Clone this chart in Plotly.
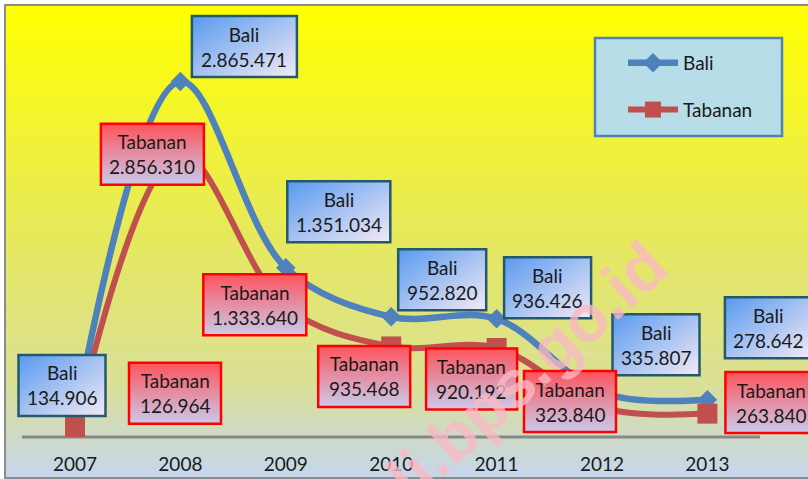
import plotly.graph_objects as go

# ---- data ----
years = ["2007", "2008", "2009", "2010", "2011", "2012", "2013"]
bali = [134906, 2865471, 1351034, 952820, 936426, 335807, 278642]
tabanan = [126964, 2856310, 1333640, 935468, 920192, 323840, 263840]

# ---- label box placement (pixel offsets from each point: right, up) ----
bali_offsets = [(-13, 32), (64, 35), (53, 56), (51, 37), (51, 31), (54, 48), (61, 72)]
tabanan_offsets = [(100, 34), (-28, 0), (-31, 2), (-27, -30), (-25, -31), (-32, 6), (64, 11)]
bali_widths = [87, 105, 103, 88, 87, 87, 87]
tabanan_widths = [92, 103, 103, 92, 91, 92, 92]
BOX_H = 61

W, H = 808, 479
FONT = "Lato"
BLUE = "#4F81BD"
RED = "#C0504D"

xpos = list(range(len(years)))


def fmt(v):
    return f"{v:,}".replace(",", ".")


def mix(c0, c1, t):
    return "rgb(%d,%d,%d)" % tuple(round(a + (b - a) * t) for a, b in zip(c0, c1))


def px(x, y):
    """figure pixel -> paper coords (margins are zero)"""
    return x / W, 1 - y / H


def clip(poly, a, b, c):
    """keep the part of poly where a*s + b*r <= c"""
    out = []
    for i in range(len(poly)):
        p, q = poly[i], poly[(i + 1) % len(poly)]
        fp, fq = a * p[0] + b * p[1] - c, a * q[0] + b * q[1] - c
        if fp <= 0:
            out.append(p)
        if (fp < 0 < fq) or (fq < 0 < fp):
            k = fp / (fp - fq)
            out.append((p[0] + k * (q[0] - p[0]), p[1] + k * (q[1] - p[1])))
    return out


def label_box(xi, value, yref, dx, dy, w, kind):
    """gradient box drawn with pixel-sized path shapes anchored to a data point"""
    shapes = []
    left, top = dx - w / 2, dy + BOX_H / 2
    if kind == "bali":
        c0, c1 = (88, 154, 240), (244, 234, 244)
        edge = "#23596A"
        diag = True
    else:
        c0, c1 = (253, 84, 92), (202, 202, 236)
        edge = "#FF0000"
        diag = False
    n = 28
    square = [(0, 0), (1, 0), (1, 1), (0, 1)]
    for i in range(n):
        t0, t1 = i / n, min(1.0, (i + 1) / n + 0.02)
        if diag:
            poly = clip(clip(square, -1, -1, -2 * t0), 1, 1, 2 * t1)
        else:
            poly = clip(clip(square, 0, -1, -t0), 0, 1, t1)
        if len(poly) < 3:
            continue
        path = "M" + "L".join(f"{left + s * w:.2f},{top - r * BOX_H:.2f}" for s, r in poly) + "Z"
        shapes.append(dict(
            type="path", path=path, xref="x", yref=yref,
            xsizemode="pixel", ysizemode="pixel", xanchor=xi, yanchor=value,
            fillcolor=mix(c0, c1, (i + 0.5) / n), line=dict(width=0), layer="above",
        ))
    shapes.append(dict(
        type="rect", xref="x", yref=yref,
        xsizemode="pixel", ysizemode="pixel", xanchor=xi, yanchor=value,
        x0=left, x1=left + w, y0=top - BOX_H, y1=top,
        fillcolor="rgba(0,0,0,0)", line=dict(color=edge, width=2.5), layer="above",
    ))
    return shapes


fig = go.Figure()

fig.add_trace(go.Scatter(
    x=xpos, y=bali, name="Bali", yaxis="y",
    mode="lines+markers", line=dict(color=BLUE, width=6.5, shape="spline", smoothing=1),
    marker=dict(symbol="diamond", size=15, color=BLUE),
    legendgroup="bali",
))
fig.add_trace(go.Scatter(
    x=xpos, y=tabanan, name="Tabanan", yaxis="y2",
    mode="lines+markers", line=dict(color=RED, width=6, shape="spline", smoothing=1),
    marker=dict(symbol="square", size=20, color=RED),
    legendgroup="tabanan",
))

shapes = []

# background gradient (yellow -> light blue)
stops = [(0, (255, 255, 0)), (0.5, (230, 232, 95)), (0.8, (218, 224, 150)), (1, (198, 214, 238))]
n = 90
top_px, bot_px = 6, 478
for i in range(n):
    t = (i + 0.5) / n
    for (s0, a), (s1, b) in zip(stops[:-1], stops[1:]):
        if s0 <= t <= s1:
            col = mix(a, b, (t - s0) / (s1 - s0))
            break
    y0 = top_px + (bot_px - top_px) * i / n
    y1 = top_px + (bot_px - top_px) * (i + 1) / n + 0.7
    x0p, y0p = px(6, y0)
    x1p, y1p = px(W + 5, y1)
    shapes.append(dict(type="rect", xref="paper", yref="paper", x0=x0p, x1=x1p,
                       y0=y1p, y1=y0p, fillcolor=col, line=dict(width=0), layer="below"))

# chart border
bx0, by0 = px(5, 5)
bx1, by1 = px(W + 10, 478)
shapes.append(dict(type="rect", xref="paper", yref="paper", x0=bx0, x1=bx1, y0=by1, y1=by0,
                   fillcolor="rgba(0,0,0,0)", line=dict(color="#8C8C8C", width=2), layer="below"))

# category axis line
ax0, ay = px(22, 437)
ax1, _ = px(760, 437)
shapes.append(dict(type="line", xref="paper", yref="paper", x0=ax0, x1=ax1, y0=ay, y1=ay,
                   line=dict(color="#888888", width=3), layer="below"))

# legend box
lx0, ly0 = px(595, 38)
lx1, ly1 = px(782, 136)
shapes.append(dict(type="rect", xref="paper", yref="paper", x0=lx0, x1=lx1, y0=ly1, y1=ly0,
                   fillcolor="#B7DDE8", line=dict(color=BLUE, width=2.5), layer="below"))

annotations = []
for series, name, yref, offsets, widths, kind in [
    (bali, "Bali", "y", bali_offsets, bali_widths, "bali"),
    (tabanan, "Tabanan", "y2", tabanan_offsets, tabanan_widths, "tabanan"),
]:
    for xi, value, (dx, dy), w in zip(xpos, series, offsets, widths):
        shapes += label_box(xi, value, yref, dx, dy, w, kind)
        annotations.append(dict(
            x=xi, y=value, xref="x", yref=yref, xshift=dx, yshift=dy,
            xanchor="center", yanchor="middle",
            text=f"{name}<br>{fmt(value)}", showarrow=False,
            font=dict(family=FONT, size=19, color="#1A1A1A"), align="center",
        ))

# watermark
wx, wy = px(498, 397)
annotations.append(dict(
    x=wx, y=wy, xref="paper", yref="paper", text="<b>bali.bps.go.id</b>",
    xanchor="center", yanchor="middle",
    showarrow=False, textangle=-42,
    font=dict(family="Liberation Sans", size=66, color="rgba(250,185,195,0.78)"),
))

step = 105.4
first = 75
fig.update_layout(
    width=W, height=H,
    margin=dict(l=0, r=0, t=0, b=0),
    paper_bgcolor="white", plot_bgcolor="rgba(0,0,0,0)",
    font=dict(family=FONT, size=19, color="#1A1A1A"),
    xaxis=dict(
        domain=[0, 1], range=[-first / step, (W - first) / step],
        tickvals=xpos, ticktext=years,
        showline=False, showgrid=False, zeroline=False,
        ticks="outside", ticklen=10, tickcolor="rgba(0,0,0,0)",
        tickfont=dict(family=FONT, size=19, color="#1A1A1A"),
    ),
    yaxis=dict(
        domain=[42 / H, 1], range=[-(437 - 434) / 123e-6, 434 / 123e-6],
        visible=False, showgrid=False, zeroline=False,
    ),
    yaxis2=dict(
        overlaying="y", side="right", range=[(440 - 437) / 100e-6, 440 / 100e-6],
        visible=False, showgrid=False, zeroline=False,
    ),
    legend=dict(
        x=623 / W, y=1 - 44 / H, xanchor="left", yanchor="top",
        bgcolor="rgba(0,0,0,0)", borderwidth=0,
        font=dict(family=FONT, size=19, color="#1A1A1A"),
        traceorder="grouped", tracegroupgap=19, itemwidth=50,
    ),
    shapes=shapes,
    annotations=annotations,
)

fig.write_html(
    "out.html",
    config={"displayModeBar": False},
    post_script="document.body.style.margin='0';",
)
